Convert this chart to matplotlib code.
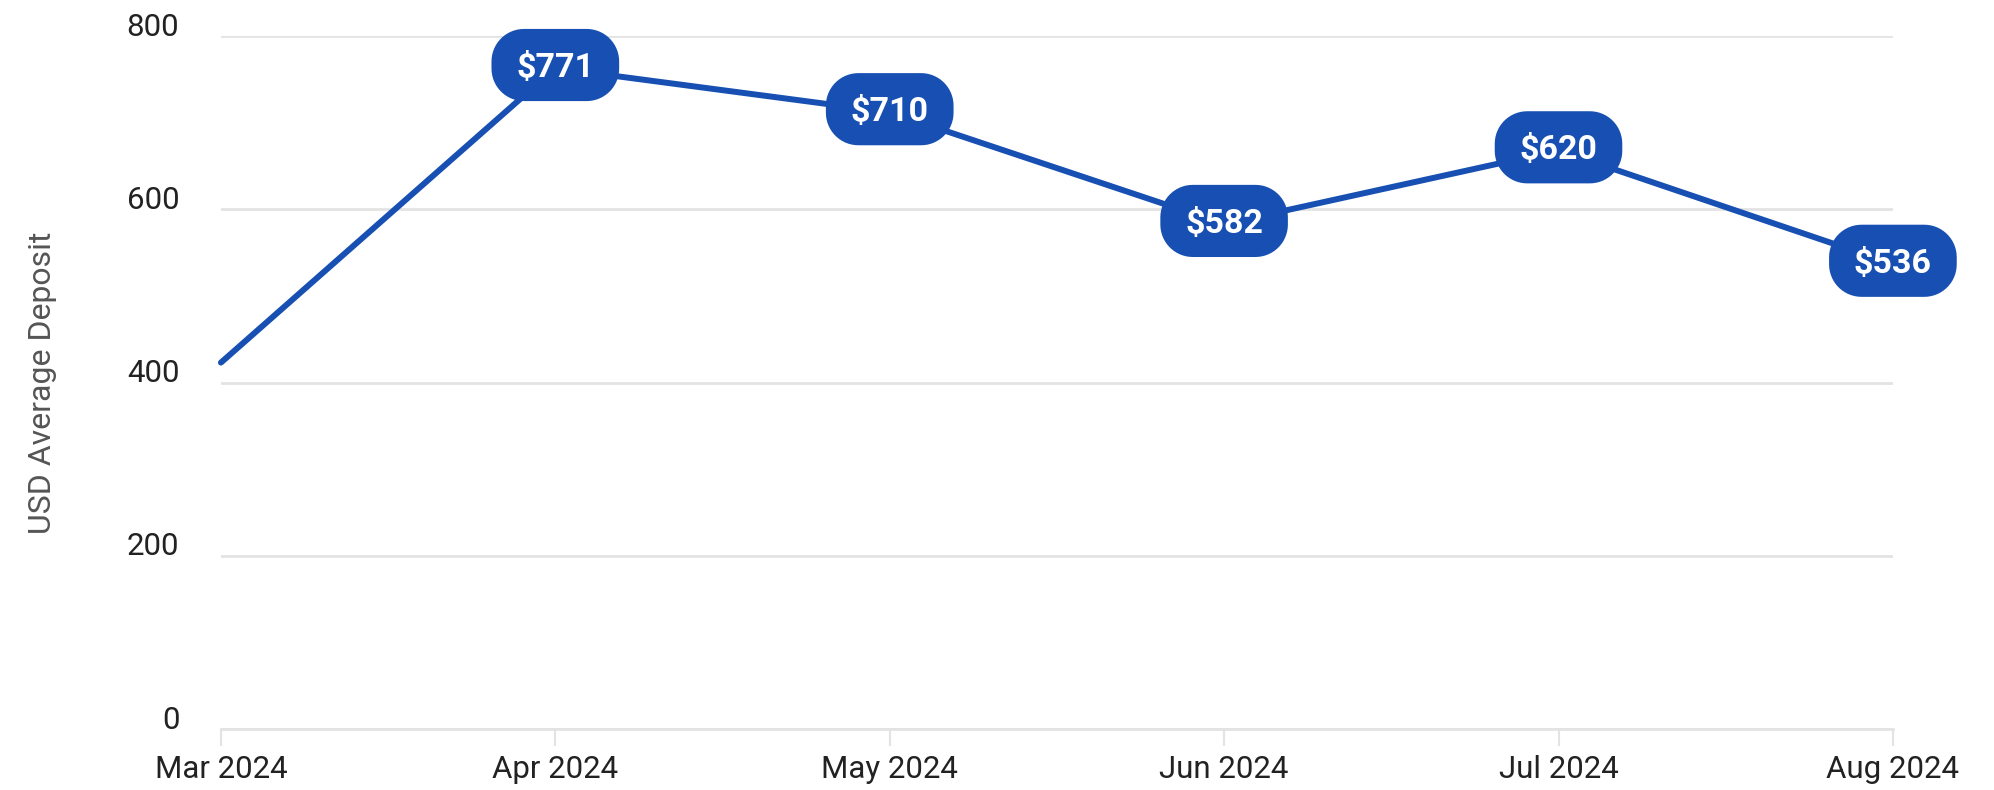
import numpy as np
import matplotlib.pyplot as plt
from matplotlib.path import Path
from matplotlib.transforms import ScaledTranslation

months = ['Mar 2024', 'Apr 2024', 'May 2024', 'Jun 2024', 'Jul 2024', 'Aug 2024']
# where the line is drawn and the text in the pills
avg_deposit = [423, 763, 712, 583, 668, 537]
pill_text = ['', '$771', '$710', '$582', '$620', '$536']
y_ticks = [0, 200, 400, 600, 800]

blue = '#1750b2'
grid_gray = '#e3e3e3'

plt.rcParams['font.family'] = ['Roboto', 'DejaVu Sans']


def pill(x0, y0, width, height, mutation_size):
    # rounded box with circular corners, more padding at the sides;
    # a bit more room on top so the digits sit in the middle
    padx = 0.73 * mutation_size
    pad_top = 0.68 * mutation_size
    pad_bot = 0.5 * mutation_size
    x0, y0 = x0 - padx, y0 - pad_bot
    x1, y1 = x0 + width + 2 * padx, y0 + height + pad_top + pad_bot
    r = 0.45 * (y1 - y0)
    t = np.linspace(0, np.pi / 2, 16)
    pts = []
    for cx, cy, a0 in [(x1 - r, y1 - r, 0), (x0 + r, y1 - r, np.pi / 2),
                       (x0 + r, y0 + r, np.pi), (x1 - r, y0 + r, 1.5 * np.pi)]:
        pts += list(zip(cx + r * np.cos(t + a0), cy + r * np.sin(t + a0)))
    pts.append(pts[0])
    return Path(pts, closed=True)


fig = plt.figure(figsize=(19.94, 7.90), dpi=100)
ax = fig.add_axes([0.1108, 0.0772, 0.8385, 0.8772])

ax.plot(months, avg_deposit, color=blue, lw=4.3, solid_capstyle='round',
        solid_joinstyle='round', zorder=3, clip_on=False)

for m, v, t in zip(months, avg_deposit, pill_text):
    if t:
        ax.text(m, v, t, ha='center', va='center', color='white',
                fontsize=24.5, fontweight='bold', zorder=5, clip_on=False,
                bbox=dict(boxstyle=pill, fc=blue, ec='none'))

ax.set_xlim(0, len(months) - 1)
ax.set_ylim(0, 800)
ax.set_yticks(y_ticks)
ax.grid(axis='y', color=grid_gray, lw=2)
ax.set_axisbelow(True)
for s in ['top', 'right', 'left']:
    ax.spines[s].set_visible(False)
ax.spines['bottom'].set_color(grid_gray)
ax.spines['bottom'].set_linewidth(2)

ax.tick_params(axis='y', length=0, pad=30, labelsize=22.5, labelcolor='#222222')
ax.tick_params(axis='x', length=12, width=1.5, color=grid_gray, pad=7,
               labelsize=22.5, labelcolor='#222222')
for lbl in ax.get_yticklabels():
    lbl.set_transform(lbl.get_transform() + ScaledTranslation(0, 0.12, fig.dpi_scale_trans))

ax.set_ylabel('USD Average Deposit', fontsize=23, color='#555555')
ax.yaxis.set_label_coords(-0.098, 0.5)

fig.savefig('out.png', dpi=100)
